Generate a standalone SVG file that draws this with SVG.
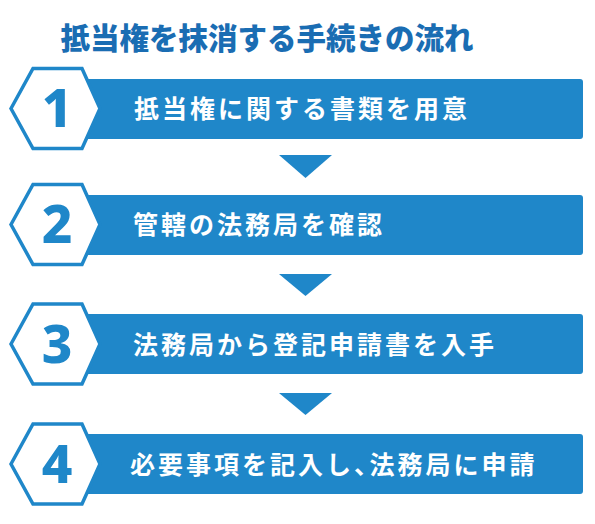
<svg xmlns="http://www.w3.org/2000/svg" width="595" height="524" viewBox="0 0 595 524">
<style>
.bar{fill:#1f87c9}
.hex{fill:#ffffff;stroke:#1f87c9;stroke-width:3.5;stroke-linejoin:miter}
.num{font-family:"Noto Sans","Noto Sans CJK JP",sans-serif;font-weight:800;font-size:53px;fill:#1f87c9;text-anchor:middle}
.lbl{font-family:"Noto Sans CJK JP",sans-serif;font-weight:700;font-size:25px;fill:#ffffff;letter-spacing:3px}
.title{font-family:"Noto Sans CJK JP",sans-serif;font-weight:900;font-size:29.5px;fill:#1a6db3;text-anchor:middle}
.tri{fill:#1f87c9}
.pa{font-feature-settings:"palt" 1}
</style>
<rect width="595" height="524" fill="#ffffff"/>
<text class="title" x="267" y="49">抵当権を抹消する手続きの流れ</text>
<g id="connectors">
<polygon class="tri" points="279,155 332,155 305.5,178"/>
<polygon class="tri" points="279,274 332,274 305.5,296"/>
<polygon class="tri" points="279,393 332,393 305.5,415"/>
</g>
<g id="step1">
<rect class="bar" x="60" y="79" width="523" height="60" rx="3"/>
<polygon class="hex" points="11,108.5 33,68.5 82,68.5 100,108.5 82,148.5 33,148.5"/>
<text class="num" x="57" y="127">1</text>
<text class="lbl" x="134" y="118">抵当権に関する書類を用意</text>
</g>
<g id="step2">
<rect class="bar" x="60" y="195" width="523" height="60" rx="3"/>
<polygon class="hex" points="11,224.5 33,184.5 82,184.5 100,224.5 82,264.5 33,264.5"/>
<text class="num" x="57" y="243">2</text>
<text class="lbl" x="133" y="234">管轄の法務局を確認</text>
</g>
<g id="step3">
<rect class="bar" x="60" y="314" width="523" height="60" rx="3"/>
<polygon class="hex" points="11,344 33,304 82,304 100,344 82,384 33,384"/>
<text class="num" x="57" y="362.5">3</text>
<text class="lbl" x="133" y="353.5">法務局から登記申請書を入手</text>
</g>
<g id="step4">
<rect class="bar" x="60" y="434" width="523" height="60" rx="3"/>
<polygon class="hex" points="11,464 33,424 82,424 100,464 82,504 33,504"/>
<text class="num" x="57" y="482.5">4</text>
<text class="lbl" x="130" y="473.5">必要事項を記入し<tspan class="pa">、</tspan>法務局に申請</text>
</g>
</svg>
